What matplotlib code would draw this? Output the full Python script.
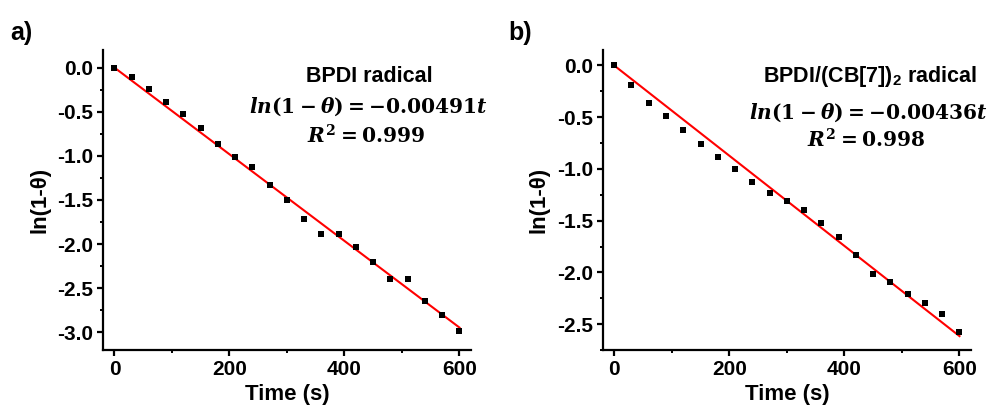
import matplotlib.pyplot as plt
from matplotlib.ticker import MultipleLocator

plt.rcParams['font.family'] = ['Liberation Sans', 'DejaVu Sans']
plt.rcParams['font.weight'] = 'bold'
plt.rcParams['mathtext.fontset'] = 'custom'
plt.rcParams['mathtext.rm'] = 'DejaVu Serif:bold'
plt.rcParams['mathtext.it'] = 'DejaVu Serif:bold:italic'
plt.rcParams['mathtext.bf'] = 'DejaVu Serif:bold'

time_s = [0, 30, 60, 90, 120, 150, 180, 210, 240, 270, 300,
          330, 360, 390, 420, 450, 480, 510, 540, 570, 600]

# panel a: BPDI radical
ln_a = [0.0, -0.11, -0.24, -0.39, -0.52, -0.68, -0.86, -1.01, -1.13, -1.33, -1.50,
        -1.71, -1.89, -1.89, -2.03, -2.20, -2.40, -2.40, -2.65, -2.80, -2.99]
slope_a = -0.00491

# panel b: BPDI/(CB[7])2 radical
ln_b = [0.0, -0.19, -0.36, -0.49, -0.62, -0.76, -0.88, -1.00, -1.13, -1.23, -1.31,
        -1.40, -1.52, -1.66, -1.83, -2.02, -2.09, -2.21, -2.30, -2.40, -2.58]
slope_b = -0.00436

fit_t = [0, 600]

fig = plt.figure(figsize=(9.89, 4.08), dpi=100)
ax1 = fig.add_axes([0.1041, 0.1422, 0.3721, 0.7353])
ax2 = fig.add_axes([0.6094, 0.1422, 0.3724, 0.7353])

# (axes, data, slope, tag, title, equation, r2, ylim, tag x, eq y, r2 y)
panels = [
    (ax1, ln_a, slope_a, "a)", "BPDI radical", r"$ln(1-\theta) = -0.00491t$",
     r"$R^2 = 0.999$", (-3.2, 0.2), 0.010, 0.81, 0.715),
    (ax2, ln_b, slope_b, "b)", r"BPDI/(CB[7])$_\mathregular{2}$ radical",
     r"$ln(1-\theta) = -0.00436t$", r"$R^2 = 0.998$", (-2.75, 0.15), 0.514, 0.79, 0.70),
]

for ax, ys, slope, tag, name, eq, r2, ylim, tagx, eqy, r2y in panels:
    ax.plot(fit_t, [slope * t for t in fit_t], color='#ff0000', lw=1.5, zorder=2)
    ax.scatter(time_s, ys, marker='s', s=20, color='black', zorder=3, linewidths=0)
    ax.set_xlim(-20, 620)
    ax.set_ylim(*ylim)
    ax.xaxis.set_major_locator(MultipleLocator(200))
    ax.xaxis.set_minor_locator(MultipleLocator(100))
    ax.yaxis.set_major_locator(MultipleLocator(0.5))
    ax.yaxis.set_minor_locator(MultipleLocator(0.25))
    ax.yaxis.set_major_formatter(plt.FormatStrFormatter('%.1f'))
    for s in ['top', 'right']:
        ax.spines[s].set_visible(False)
    for s in ['left', 'bottom']:
        ax.spines[s].set_linewidth(1.6)
    ax.tick_params(which='major', direction='out', length=4, width=1.6, labelsize=15, pad=3)
    ax.tick_params(which='minor', direction='out', length=2.5, width=1.4)
    for lbl in ax.get_xticklabels() + ax.get_yticklabels():
        lbl.set_fontweight('bold')
    ax.set_xlabel("Time (s)", fontsize=16, fontweight='bold', labelpad=4)
    ax.set_ylabel("ln(1-θ)", fontsize=16, fontweight='bold', labelpad=5)
    ax.text(0.725, 0.91, name, transform=ax.transAxes, ha='center', va='center',
            fontsize=15.5, fontweight='bold')
    ax.text(0.72, eqy, eq, transform=ax.transAxes, ha='center', va='center', fontsize=14.5)
    ax.text(0.715, r2y, r2, transform=ax.transAxes, ha='center', va='center', fontsize=14.5)
    fig.text(tagx, 0.92, tag, fontsize=18, fontweight='bold', ha='left', va='center')

fig.savefig("out.png", dpi=100)
